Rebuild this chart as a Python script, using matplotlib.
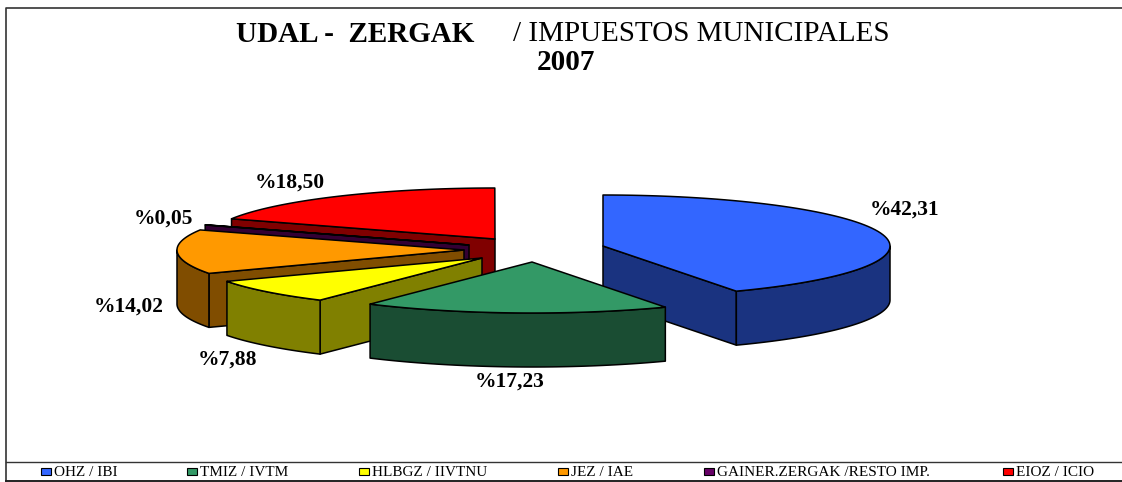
"""UDAL - ZERGAK 2007: exploded 3D pie drawn by hand, matplotlib has no such pie."""
import numpy as np
import matplotlib
matplotlib.use('Agg')
import matplotlib.pyplot as plt
from matplotlib.patches import Polygon, Rectangle

plt.rcParams['font.family'] = ['Liberation Serif', 'DejaVu Serif']

# ---- data --------------------------------------------------------------------
names = ['OHZ / IBI', 'TMIZ / IVTM', 'HLBGZ / IIVTNU', 'JEZ / IAE',
         'GAINER.ZERGAK /RESTO IMP.', 'EIOZ / ICIO']
values = [42.31, 17.23, 7.88, 14.02, 0.05, 18.50]

# ---- styles / layout (pixel coordinates of the 1122x482 picture) ---------------
top_col = ['#3366FF', '#339966', '#FFFF00', '#FF9900', '#660066', '#FF0000']
side_col = ['#1A3380', '#1A4D33', '#808000', '#804D00', '#330033', '#800000']
apex = [(603, 246), (532, 262), (482, 258), (464, 250), (469, 245), (495, 239)]
label_xy = [(905, 210), (510, 382), (228, 360), (129, 307), (163, 219), (290, 183)]
legend_box_x = [41, 187, 359, 558, 704, 1003]
RX, RY, DEPTH = 287, 51, 54
draw_order = [0, 5, 4, 3, 2, 1]  # back to front


def rim(cx, cy, a0, a1, dy=0):
    th = np.radians(np.linspace(a0, a1, 80))
    return np.column_stack([cx + RX*np.sin(th), cy - RY*np.cos(th) + dy])


def poly(a, pts, col):
    a.add_patch(Polygon(pts, closed=True, fc=col, ec='black', lw=1.1, joinstyle='round'))


def cut_face(a, cx, cy, ang, col):
    p = rim(cx, cy, ang, ang)[0]
    poly(a, [(cx, cy), p, (p[0], p[1]+DEPTH), (cx, cy+DEPTH)], col)


fig = plt.figure(figsize=(11.22, 4.82), dpi=100)
a = fig.add_axes([0, 0, 1, 1])
a.set_xlim(0, 1122); a.set_ylim(482, 0); a.axis('off')

# ---- pie slices --------------------------------------------------------------
edges = np.concatenate([[0], np.cumsum(values)])*3.6
for i in draw_order:
    cx, cy = apex[i]
    a0, a1 = edges[i], edges[i+1]
    # flat cut faces towards the centre, only those turned to the viewer
    if 180 < a0 < 360:
        cut_face(a, cx, cy, a0, side_col[i])
    if 0 < a1 < 180:
        cut_face(a, cx, cy, a1, side_col[i])
    # outer wall, only the front half of the ellipse can be seen
    lo, hi = max(a0, 90), min(a1, 270)
    if hi > lo:
        poly(a, np.vstack([rim(cx, cy, lo, hi), rim(cx, cy, hi, lo, DEPTH)]), side_col[i])
    poly(a, np.vstack([[(cx, cy)], rim(cx, cy, a0, a1)]), top_col[i])

for v, (x, y) in zip(values, label_xy):
    a.text(x, y, f'%{v:.2f}'.replace('.', ','), ha='center', va='center',
           fontsize=15.5, fontweight='bold', color='black')

# ---- title -------------------------------------------------------------------
a.text(355, 34, 'UDAL -  ZERGAK', ha='center', va='center', fontsize=21, fontweight='bold')
a.text(701, 34, '/ IMPUESTOS MUNICIPALES', ha='center', va='center', fontsize=21)
a.text(566, 62, '2007', ha='center', va='center', fontsize=21, fontweight='bold')

# ---- frame + legend strip ----------------------------------------------------
a.plot([6, 6, 1122], [481, 8, 8], color='#333333', lw=1.2, clip_on=False)
a.plot([6, 1122], [462, 462], color='#333333', lw=1.0)
a.plot([6, 1122], [481, 481], color='#222222', lw=1.4, clip_on=False)
for x, name, col in zip(legend_box_x, names, top_col):
    a.add_patch(Rectangle((x, 468), 10, 7, fc=col, ec='black', lw=0.8))
    a.text(x+13, 472, name, ha='left', va='center', fontsize=11)

fig.savefig('out.png', dpi=100, facecolor='white')
